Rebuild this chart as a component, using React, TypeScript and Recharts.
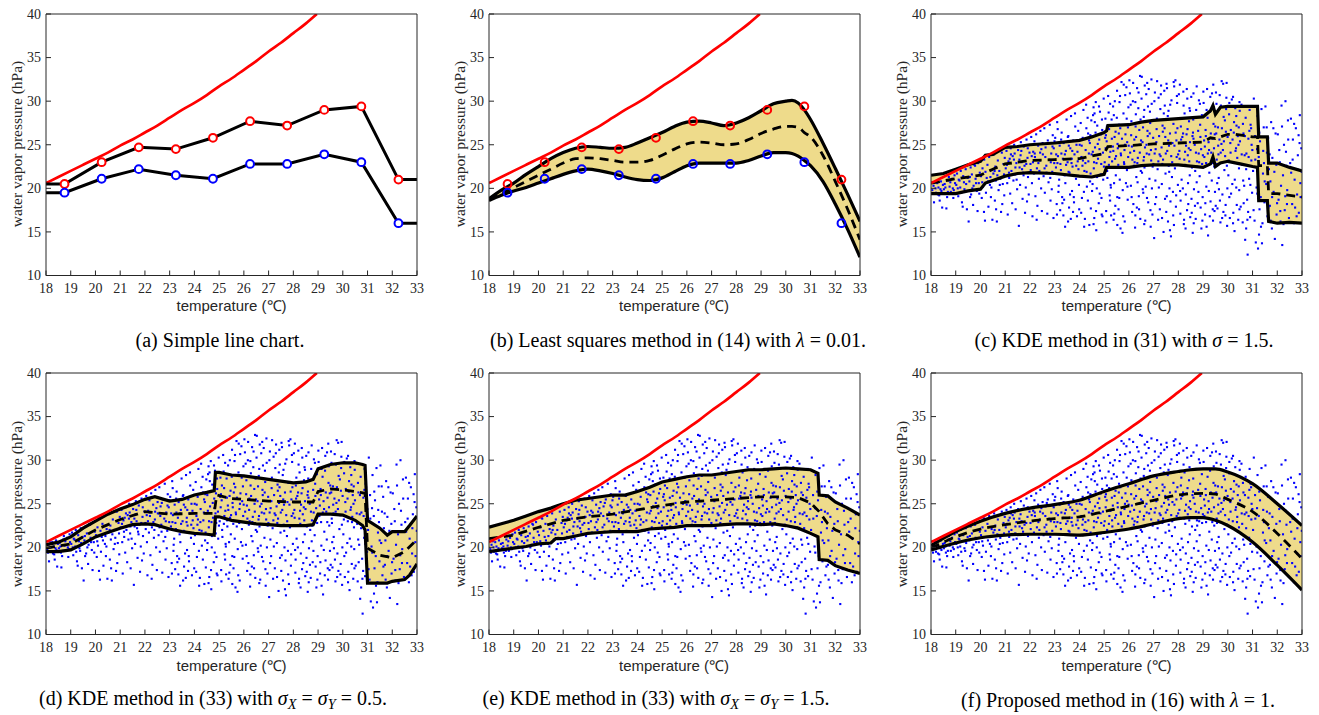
import React from 'react';
import { ComposedChart, Line, Area, Scatter, XAxis, YAxis } from 'recharts';

// axis ticks
const xTicks = [18, 19, 20, 21, 22, 23, 24, 25, 26, 27, 28, 29, 30, 31, 32, 33];
const yTicks = [10, 15, 20, 25, 30, 35, 40];

// saturation vapour pressure (red curve)
const satX = [18, 18.5, 19, 19.5, 20, 20.5, 21, 21.5, 22, 22.5, 23, 23.5, 24, 24.5, 25, 25.5, 26, 26.5, 27, 27.5, 28, 28.5, 28.95];
const satY = [20.6, 21.3, 22.0, 22.7, 23.4, 24.1, 24.9, 25.6, 26.4, 27.2, 28.1, 29.0, 29.8, 30.7, 31.7, 32.6, 33.6, 34.6, 35.7, 36.7, 37.8, 38.9, 40.0];

// bin max / min markers (panels a, b)
const binX = [18.75, 20.25, 21.75, 23.25, 24.75, 26.25, 27.75, 29.25, 30.75, 32.25];
const binMax = [20.5, 23.0, 24.7, 24.5, 25.8, 27.7, 27.2, 29.0, 29.4, 21.0];
const binMin = [19.5, 21.1, 22.2, 21.5, 21.1, 22.8, 22.8, 23.9, 23.0, 16.0];

// (b) least squares
const bX = [18, 18.5, 19, 19.5, 20, 20.5, 21, 21.5, 22, 22.5, 23, 23.5, 24, 24.5, 25, 25.5, 26, 26.5, 27, 27.5, 28, 28.5, 29, 29.5, 30, 30.25, 30.5, 30.75, 31, 31.5, 32, 32.5, 33];
const bHi = [18.8, 19.8, 20.6, 21.6, 22.5, 23.4, 24.1, 24.6, 24.8, 24.7, 24.6, 24.7, 25.2, 25.8, 26.4, 27.1, 27.6, 27.7, 27.5, 27.2, 27.5, 28.1, 28.9, 29.7, 30.0, 30.1, 29.8, 29.0, 27.9, 25.2, 22.3, 19.3, 16.2];
const bLo = [18.6, 19.2, 19.7, 20.1, 20.6, 21.1, 21.6, 22.0, 22.2, 22.0, 21.7, 21.3, 21.0, 20.9, 21.2, 21.9, 22.6, 22.9, 22.9, 22.9, 22.9, 23.2, 23.7, 24.1, 24.1, 24.0, 23.7, 23.2, 22.6, 20.8, 18.2, 15.3, 12.1];
const bMid = [18.7, 19.4, 20.1, 20.8, 21.5, 22.2, 22.9, 23.4, 23.5, 23.4, 23.2, 23.0, 23.0, 23.2, 23.8, 24.5, 25.1, 25.3, 25.2, 25.0, 25.1, 25.6, 26.3, 26.8, 27.1, 27.1, 27.0, 26.4, 25.9, 23.8, 20.8, 17.6, 14.1];

// (c) KDE sigma = 1.5
const cX = [18, 18.5, 19, 19.5, 20, 20.2, 20.5, 21, 21.5, 22, 23, 24, 24.5, 25, 25.1, 25.15, 26, 26.5, 27, 28, 29, 29.3, 29.4, 29.5, 29.7, 30, 30.5, 31, 31.2, 31.25, 31.6, 31.65, 32, 32.5, 33];
const cHi = [21.5, 21.7, 22.2, 22.7, 23.1, 23.8, 23.9, 24.7, 24.8, 25.0, 25.2, 25.5, 25.9, 26.4, 26.6, 27.2, 27.3, 27.6, 27.8, 28.0, 28.2, 28.9, 29.5, 28.5, 29.3, 29.4, 29.4, 29.4, 29.4, 25.9, 25.9, 22.9, 22.9, 22.4, 22.0];
const cLo = [19.4, 19.4, 19.4, 19.7, 19.9, 20.6, 20.9, 21.4, 21.7, 21.8, 21.7, 21.4, 21.3, 21.6, 22.4, 22.4, 22.4, 22.6, 22.7, 22.7, 22.4, 22.8, 23.6, 22.5, 22.9, 23.1, 22.8, 22.5, 22.4, 18.6, 18.6, 16.2, 16.0, 16.1, 16.0];
const cMidX = [18, 19, 20, 20.5, 21, 22, 23, 24, 25, 25.15, 26, 27, 28, 29, 29.3, 29.5, 30, 30.3, 31, 31.2, 31.25, 31.6, 31.65, 32, 33];
const cMid = [20.6, 21.1, 21.5, 22.2, 22.8, 23.2, 23.3, 23.4, 24.0, 24.8, 24.9, 25.1, 25.2, 25.3, 25.8, 25.7, 26.2, 26.2, 25.9, 25.9, 22.6, 22.6, 19.4, 19.4, 19.0];

// (d) KDE sigma = 0.5
const dX = [18, 18.5, 19, 19.5, 20, 20.5, 21, 21.5, 22, 22.4, 23, 23.5, 24, 24.5, 24.8, 24.85, 25, 25.5, 26, 26.5, 27, 27.5, 28, 28.5, 28.8, 29, 29.5, 30, 30.5, 30.8, 30.9, 31, 31.5, 31.8, 32, 32.5, 32.7, 33];
const dHi = [20.3, 20.6, 21.2, 22.2, 23.0, 23.8, 24.4, 24.9, 25.5, 25.8, 25.3, 25.5, 26.0, 26.3, 26.5, 28.6, 28.6, 28.3, 28.2, 28.0, 27.8, 27.6, 27.4, 27.5, 27.8, 29.0, 29.5, 29.7, 29.7, 29.5, 29.4, 23.1, 22.2, 21.4, 21.8, 21.8, 22.5, 23.6];
const dLo = [19.5, 19.5, 19.7, 20.4, 21.2, 21.7, 22.2, 22.6, 22.7, 22.6, 22.1, 21.8, 21.6, 21.5, 21.4, 23.5, 23.5, 23.1, 22.9, 22.7, 22.6, 22.5, 22.5, 22.5, 22.6, 23.8, 23.8, 23.7, 23.1, 22.5, 22.0, 15.9, 15.9, 15.9, 16.1, 16.3, 16.8, 18.1];
const dMidX = [18, 19, 19.5, 20, 21, 22, 23, 24, 24.8, 24.9, 25.5, 26, 27, 28, 28.8, 29, 29.5, 30, 30.5, 30.9, 31, 31.5, 32, 32.5, 33];
const dMid = [19.9, 20.4, 21.2, 22.0, 23.2, 24.1, 23.8, 23.9, 23.9, 26.0, 25.6, 25.5, 25.3, 25.2, 25.2, 26.4, 26.7, 26.6, 26.4, 26.2, 19.9, 19.1, 18.8, 19.5, 20.9];

// (e) KDE sigma_X = sigma_Y = 1.5
const eX = [18, 18.5, 19, 19.5, 20, 20.5, 20.7, 21, 21.5, 22, 22.5, 23, 23.5, 24, 24.5, 25, 25.5, 26, 26.5, 27, 27.5, 28, 28.5, 29, 29.5, 30, 30.5, 31, 31.3, 31.35, 31.7, 32, 32.5, 33];
const eHi = [22.3, 22.7, 23.1, 23.6, 24.1, 24.5, 24.7, 25.0, 25.4, 25.6, 25.8, 26.0, 26.0, 26.4, 26.9, 27.5, 27.8, 28.1, 28.3, 28.3, 28.5, 28.7, 28.9, 28.9, 29.0, 29.1, 29.0, 28.9, 28.5, 26.0, 25.9, 25.2, 24.5, 23.7];
const eLo = [19.5, 19.7, 19.9, 20.1, 20.4, 20.5, 21.0, 21.0, 21.3, 21.6, 21.7, 21.8, 21.8, 21.8, 22.1, 22.2, 22.3, 22.5, 22.5, 22.5, 22.6, 22.7, 22.7, 22.6, 22.7, 22.5, 22.2, 21.6, 21.2, 18.6, 18.5, 17.9, 17.4, 17.0];
const eMidX = [18, 19, 20, 21, 22, 23, 24, 25, 26, 27, 28, 29, 30, 30.5, 31, 31.35, 31.7, 32, 32.5, 33];
const eMid = [21.0, 21.4, 22.3, 23.1, 23.5, 23.8, 24.3, 24.8, 25.2, 25.4, 25.6, 25.8, 25.8, 25.7, 25.1, 24.1, 22.7, 22.0, 21.4, 20.4];

// (f) proposed method
const fX = [18, 19, 20, 21, 22, 23, 24, 25, 26, 27, 28, 28.5, 29, 29.5, 30, 31, 32, 33];
const fHi = [20.2, 21.8, 23.0, 23.9, 24.5, 24.9, 25.4, 26.4, 27.3, 28.2, 28.7, 28.9, 29.0, 29.0, 28.65, 27.3, 25.0, 22.5];
const fLo = [19.7, 20.5, 21.1, 21.4, 21.5, 21.5, 21.4, 21.7, 22.1, 22.7, 23.3, 23.4, 23.4, 23.1, 22.5, 20.6, 17.95, 15.1];
const fMid = [19.9, 21.2, 22.1, 22.6, 23.0, 23.3, 23.5, 24.1, 24.75, 25.4, 26.0, 26.15, 26.2, 26.1, 25.5, 24.1, 21.6, 18.7];

// observations (blue dots), [temperature, vapour pressure]
const obs: [number, number][] = [
  [18.05, 19.8], [18.1, 20.3], [18.12, 18.4], [18.2, 19.5], [18.25, 20.6], [18.3, 20.1], [18.33, 19.2], [18.4, 20.8], [18.42, 19.7], [18.45, 17.8], [18.48, 20.4], [18.15, 20.7],
  [18.52, 19.9], [18.55, 20.5], [18.6, 19.4], [18.62, 17.7], [18.7, 20.9], [18.72, 21.3], [18.75, 20.2], [18.8, 19.6], [18.85, 21.1], [18.88, 20.0], [18.9, 18.9], [18.95, 21.5], [18.97, 20.6], [18.65, 19.0],
  [19.02, 20.4], [19.05, 21.7], [19.1, 19.1], [19.12, 21.0], [19.18, 20.1], [19.2, 22.0], [19.25, 18.4], [19.3, 21.4], [19.33, 20.7], [19.38, 19.6], [19.4, 22.2], [19.45, 17.6], [19.48, 21.2], [19.15, 20.9], [19.35, 19.9],
  [19.52, 16.2], [19.55, 20.8], [19.6, 22.4], [19.62, 19.3], [19.65, 21.6], [19.7, 18.1], [19.72, 20.3], [19.78, 22.6], [19.8, 21.1], [19.85, 19.7], [19.88, 17.4], [19.9, 22.9], [19.93, 20.6], [19.97, 21.8], [19.58, 19.0], [19.75, 22.7],
  [20.02, 21.4], [20.05, 18.9], [20.08, 22.3], [20.1, 20.2], [20.15, 23.3], [20.18, 16.3], [20.2, 21.9], [20.22, 19.5], [20.28, 22.7], [20.3, 20.8], [20.32, 17.9], [20.35, 23.6], [20.4, 21.3], [20.42, 19.0], [20.45, 22.1], [20.48, 16.4], [20.38, 20.4], [20.12, 23.4],
  [20.52, 21.7], [20.55, 23.9], [20.58, 18.6], [20.6, 22.5], [20.62, 20.9], [20.66, 16.2], [20.7, 23.2], [20.73, 19.8], [20.76, 22.0], [20.8, 21.1], [20.83, 17.3], [20.86, 24.1], [20.9, 20.5], [20.93, 22.8], [20.96, 19.2], [20.98, 23.5], [20.68, 21.5], [20.88, 18.2],
  [21.02, 22.3], [21.05, 24.3], [21.08, 20.6], [21.1, 17.0], [21.13, 23.1], [21.16, 21.2], [21.2, 19.4], [21.22, 24.6], [21.25, 22.0], [21.28, 18.3], [21.3, 23.7], [21.33, 20.9], [21.36, 25.0], [21.4, 21.6], [21.42, 17.6], [21.45, 22.9], [21.48, 19.9], [21.18, 23.4], [21.38, 24.0], [21.46, 21.0],
  [21.52, 24.4], [21.55, 15.7], [21.58, 22.4], [21.6, 20.4], [21.63, 25.3], [21.66, 23.0], [21.7, 18.8], [21.72, 21.8], [21.75, 24.8], [21.78, 22.6], [21.8, 17.2], [21.83, 20.1], [21.86, 25.6], [21.9, 23.5], [21.92, 21.3], [21.95, 19.3], [21.98, 24.1], [21.68, 22.2], [21.88, 18.5], [21.62, 23.8],
  [22.02, 22.8], [22.05, 25.9], [22.08, 20.6], [22.1, 16.8], [22.13, 24.2], [22.16, 21.7], [22.2, 23.6], [22.22, 19.1], [22.25, 26.2], [22.28, 22.3], [22.3, 18.0], [22.33, 24.9], [22.36, 21.1], [22.4, 23.2], [22.42, 26.6], [22.45, 20.0], [22.48, 17.4], [22.18, 25.4], [22.38, 22.0], [22.46, 24.5], [22.12, 23.0], [22.27, 16.4],
  [22.52, 23.9], [22.55, 21.4], [22.58, 26.9], [22.6, 19.5], [22.63, 24.7], [22.66, 22.6], [22.7, 17.1], [22.72, 25.5], [22.75, 20.7], [22.78, 23.3], [22.8, 27.3], [22.83, 18.6], [22.86, 24.0], [22.9, 21.9], [22.92, 26.1], [22.95, 16.6], [22.98, 22.9], [22.68, 25.1], [22.88, 19.9], [22.62, 23.6], [22.82, 21.2], [22.96, 24.6],
  [23.02, 25.8], [23.05, 22.4], [23.08, 18.2], [23.1, 27.6], [23.13, 23.7], [23.16, 20.3], [23.2, 24.9], [23.22, 17.5], [23.25, 22.1], [23.28, 26.4], [23.3, 19.0], [23.33, 23.4], [23.36, 25.2], [23.4, 21.5], [23.42, 15.6], [23.45, 24.3], [23.48, 27.9], [23.18, 21.0], [23.38, 18.7], [23.46, 22.7], [23.12, 26.8], [23.27, 24.0], [23.35, 16.9], [23.43, 20.6],
  [23.52, 23.0], [23.55, 26.0], [23.58, 17.8], [23.6, 21.8], [23.63, 24.6], [23.66, 28.3], [23.7, 19.7], [23.72, 22.5], [23.75, 25.5], [23.78, 18.4], [23.8, 23.9], [23.83, 27.1], [23.86, 21.1], [23.9, 16.8], [23.92, 24.2], [23.95, 26.6], [23.98, 20.4], [23.68, 22.9], [23.88, 25.0], [23.62, 19.3], [23.82, 28.6], [23.96, 22.2], [23.74, 17.3], [23.57, 24.9],
  [24.02, 21.4], [24.05, 27.5], [24.08, 23.6], [24.1, 18.9], [24.13, 25.8], [24.16, 29.0], [24.2, 22.0], [24.22, 16.5], [24.25, 24.4], [24.28, 26.9], [24.3, 20.2], [24.33, 28.1], [24.36, 23.1], [24.4, 15.8], [24.42, 25.2], [24.45, 21.7], [24.48, 27.8], [24.18, 19.6], [24.38, 24.0], [24.46, 17.7], [24.12, 22.6], [24.27, 29.6], [24.35, 26.3], [24.43, 20.8], [24.07, 17.2], [24.49, 23.9],
  [24.52, 26.0], [24.55, 28.4], [24.58, 22.3], [24.6, 16.6], [24.63, 24.7], [24.66, 29.9], [24.7, 20.0], [24.72, 27.2], [24.75, 23.4], [24.78, 18.3], [24.8, 25.6], [24.83, 28.8], [24.86, 21.6], [24.9, 17.0], [24.92, 26.7], [24.95, 24.1], [24.98, 30.3], [24.68, 15.2], [24.88, 22.8], [24.62, 27.6], [24.82, 19.4], [24.96, 21.0], [24.74, 25.1], [24.57, 29.3], [24.93, 16.8], [24.53, 20.5], [24.85, 23.9], [24.65, 26.4],
  [25.02, 23.0], [25.05, 28.0], [25.08, 17.4], [25.1, 25.4], [25.13, 21.2], [25.16, 30.6], [25.2, 26.8], [25.22, 19.2], [25.25, 24.2], [25.28, 16.9], [25.3, 27.9], [25.33, 22.4], [25.36, 29.4], [25.4, 20.6], [25.42, 25.9], [25.45, 18.0], [25.48, 23.7], [25.18, 28.7], [25.38, 16.4], [25.46, 26.5], [25.12, 22.0], [25.27, 20.1], [25.35, 24.8], [25.43, 30.0], [25.07, 26.1], [25.47, 21.5], [25.24, 18.6], [25.32, 23.1],
  [25.52, 31.2], [25.55, 24.6], [25.58, 17.6], [25.6, 27.3], [25.63, 21.0], [25.66, 15.4], [25.7, 32.2], [25.72, 25.7], [25.75, 19.8], [25.78, 28.6], [25.8, 23.0], [25.83, 16.2], [25.86, 26.2], [25.9, 31.6], [25.92, 22.1], [25.95, 18.7], [25.98, 29.3], [25.68, 23.8], [25.88, 20.6], [25.62, 29.9], [25.82, 24.4], [25.96, 27.0], [25.74, 14.9], [25.57, 22.7], [25.93, 25.3], [25.53, 19.0], [25.85, 30.7], [25.65, 26.9],
  [26.02, 32.4], [26.05, 24.1], [26.08, 20.3], [26.1, 27.7], [26.13, 17.3], [26.16, 30.0], [26.2, 22.6], [26.22, 25.6], [26.25, 15.5], [26.28, 28.5], [26.3, 21.3], [26.33, 31.5], [26.36, 23.5], [26.4, 19.1], [26.42, 26.7], [26.45, 32.9], [26.48, 22.0], [26.18, 18.2], [26.38, 29.2], [26.46, 16.5], [26.12, 24.8], [26.27, 27.1], [26.35, 20.7], [26.43, 25.0], [26.07, 29.6], [26.47, 27.9], [26.23, 23.0], [26.32, 17.8],
  [26.52, 32.8], [26.55, 25.3], [26.58, 19.5], [26.6, 28.2], [26.63, 22.4], [26.66, 16.3], [26.7, 30.8], [26.72, 24.0], [26.75, 26.6], [26.78, 18.4], [26.8, 31.4], [26.83, 21.1], [26.86, 27.5], [26.9, 23.2], [26.92, 29.7], [26.95, 17.0], [26.98, 25.8], [26.68, 20.2], [26.88, 15.6], [26.62, 29.0], [26.82, 23.9], [26.96, 22.5], [26.74, 32.1], [26.57, 27.0], [26.93, 20.0], [26.53, 21.8], [26.85, 28.8], [26.65, 24.7],
  [27.02, 14.3], [27.05, 31.0], [27.08, 24.5], [27.1, 19.0], [27.13, 28.0], [27.16, 22.2], [27.2, 30.4], [27.22, 26.0], [27.25, 17.6], [27.28, 23.7], [27.3, 31.8], [27.33, 20.5], [27.36, 27.2], [27.4, 15.0], [27.42, 25.1], [27.45, 29.5], [27.48, 21.7], [27.18, 16.4], [27.38, 23.3], [27.46, 18.8], [27.12, 26.8], [27.27, 29.1], [27.35, 22.8], [27.43, 31.2], [27.07, 20.9], [27.47, 25.9],
  [27.52, 32.0], [27.55, 24.3], [27.58, 16.2], [27.6, 28.9], [27.63, 21.9], [27.66, 26.3], [27.7, 14.5], [27.72, 30.1], [27.75, 23.0], [27.78, 19.6], [27.8, 27.4], [27.83, 31.7], [27.86, 22.3], [27.9, 17.9], [27.92, 25.5], [27.95, 29.8], [27.98, 20.4], [27.68, 18.5], [27.88, 32.4], [27.62, 24.9], [27.82, 15.8], [27.96, 26.9], [27.74, 21.3], [27.57, 28.3], [27.93, 23.6], [27.53, 19.1],
  [28.02, 30.8], [28.05, 23.4], [28.08, 17.1], [28.1, 27.1], [28.13, 21.0], [28.16, 25.9], [28.2, 31.1], [28.22, 15.9], [28.25, 28.6], [28.28, 22.7], [28.3, 19.3], [28.33, 26.2], [28.36, 30.3], [28.4, 18.2], [28.42, 24.6], [28.45, 29.2], [28.48, 16.7], [28.18, 20.0], [28.38, 23.8], [28.46, 21.5], [28.12, 28.0], [28.27, 24.2], [28.35, 17.5], [28.43, 27.7], [28.07, 19.7], [28.47, 25.3],
  [28.52, 30.5], [28.55, 22.4], [28.58, 14.9], [28.6, 27.9], [28.63, 19.9], [28.66, 25.0], [28.7, 16.5], [28.72, 29.0], [28.75, 23.1], [28.78, 18.3], [28.8, 26.6], [28.83, 30.1], [28.86, 21.4], [28.9, 17.8], [28.92, 24.5], [28.95, 28.4], [28.98, 19.0], [28.68, 22.0], [28.88, 27.3], [28.62, 16.0], [28.82, 24.0], [28.96, 22.8], [28.74, 20.7], [28.57, 26.0], [28.93, 15.4], [28.53, 18.8],
  [29.02, 29.8], [29.05, 23.6], [29.08, 17.0], [29.1, 26.7], [29.13, 20.2], [29.16, 31.4], [29.2, 14.6], [29.22, 25.3], [29.25, 21.8], [29.28, 28.8], [29.3, 18.5], [29.33, 24.1], [29.36, 30.9], [29.4, 16.3], [29.42, 27.4], [29.45, 22.5], [29.48, 19.6], [29.18, 28.1], [29.38, 25.7], [29.46, 17.4], [29.12, 22.9], [29.27, 16.8], [29.35, 20.9], [29.43, 29.3], [29.07, 24.8], [29.47, 26.2],
  [29.52, 31.0], [29.55, 23.3], [29.58, 17.7], [29.6, 27.0], [29.63, 21.2], [29.66, 25.6], [29.7, 16.1], [29.72, 29.5], [29.75, 32.3], [29.78, 19.3], [29.8, 24.4], [29.83, 28.2], [29.86, 22.1], [29.9, 16.9], [29.92, 26.5], [29.95, 32.1], [29.98, 20.0], [29.68, 18.6], [29.88, 27.8], [29.62, 23.9], [29.82, 17.3], [29.96, 22.6], [29.74, 25.1], [29.57, 20.6], [29.93, 29.1], [29.53, 26.3],
  [30.02, 21.5], [30.05, 28.5], [30.08, 16.6], [30.1, 25.2], [30.13, 19.4], [30.16, 30.2], [30.2, 23.0], [30.22, 17.2], [30.25, 27.6], [30.28, 21.0], [30.3, 29.2], [30.33, 24.6], [30.36, 18.1], [30.4, 26.0], [30.42, 16.4], [30.45, 22.3], [30.48, 28.9], [30.18, 20.5], [30.38, 23.5], [30.46, 19.8], [30.12, 26.7], [30.27, 15.1], [30.35, 27.2], [30.43, 25.0],
  [30.52, 17.9], [30.55, 29.6], [30.58, 22.7], [30.6, 16.1], [30.63, 26.3], [30.66, 20.3], [30.7, 14.1], [30.72, 28.1], [30.75, 24.0], [30.78, 18.7], [30.8, 12.4], [30.83, 25.7], [30.86, 21.1], [30.9, 16.7], [30.92, 27.3], [30.95, 23.2], [30.98, 19.5], [30.68, 23.8], [30.88, 29.0], [30.62, 20.9], [30.82, 17.3], [30.96, 25.0],
  [31.02, 22.0], [31.05, 30.3], [31.08, 16.3], [31.1, 26.0], [31.13, 13.8], [31.16, 20.1], [31.2, 28.3], [31.22, 13.1], [31.25, 23.6], [31.28, 17.6], [31.3, 25.4], [31.33, 19.0], [31.36, 29.1], [31.4, 16.0], [31.42, 21.7], [31.45, 27.0], [31.48, 18.4], [31.18, 24.5], [31.38, 13.7], [31.46, 22.9],
  [31.52, 29.4], [31.55, 20.5], [31.6, 16.8], [31.63, 25.8], [31.66, 22.2], [31.7, 18.0], [31.75, 27.6], [31.78, 15.4], [31.8, 23.5], [31.85, 19.6], [31.9, 14.2], [31.93, 26.3], [31.97, 17.0], [31.58, 24.1], [31.72, 20.8], [31.88, 21.9],
  [32.02, 26.2], [32.05, 18.7], [32.1, 23.0], [32.13, 16.2], [32.17, 29.5], [32.2, 13.5], [32.23, 21.5], [32.27, 25.0], [32.3, 17.5], [32.33, 30.0], [32.37, 22.6], [32.4, 19.8], [32.43, 27.8], [32.47, 16.6], [32.15, 20.3], [32.35, 24.2],
  [32.52, 22.9], [32.55, 28.0], [32.6, 18.2], [32.63, 25.6], [32.67, 16.0], [32.7, 21.0], [32.75, 26.9], [32.8, 19.3], [32.83, 23.8], [32.87, 17.2], [32.9, 25.2], [32.93, 20.6], [32.97, 24.6], [32.78, 16.8],
  // denser core of the cloud
  [21.07, 22.7], [21.23, 23.9], [21.41, 22.4], [21.57, 23.3], [21.74, 21.5], [21.91, 24.6], [22.03, 22.1], [22.19, 24.0], [22.34, 22.9], [22.51, 25.2], [22.67, 21.8], [22.84, 23.0], [22.99, 25.4],
  [23.11, 22.9], [23.26, 25.6], [23.41, 23.9], [23.56, 21.9], [23.71, 24.3], [23.87, 22.6], [24.01, 25.0], [24.14, 23.2], [24.29, 21.9], [24.44, 26.1], [24.59, 23.0], [24.71, 21.3], [24.87, 26.2],
  [24.99, 22.5], [25.06, 24.6], [25.19, 22.7], [25.31, 25.7], [25.44, 23.4], [25.59, 26.3], [25.71, 22.4], [25.84, 25.0], [25.97, 23.6], [26.09, 26.1], [26.21, 24.3], [26.34, 22.9], [26.49, 25.5],
  [26.61, 23.6], [26.76, 26.0], [26.89, 24.4], [26.99, 22.8], [27.11, 25.3], [27.24, 23.9], [27.37, 26.5], [27.49, 24.0], [27.61, 22.6], [27.76, 25.2], [27.89, 26.4], [27.99, 23.9], [28.11, 25.6],
  [28.24, 23.3], [28.37, 26.8], [28.49, 24.4], [28.61, 25.7], [28.76, 22.5], [28.89, 25.9], [28.99, 23.8], [29.11, 26.0], [29.24, 24.4], [29.37, 22.9], [29.49, 27.1], [29.61, 24.9], [29.76, 26.9],
  [29.89, 23.7], [29.99, 25.9], [30.11, 24.1], [30.24, 26.4], [30.37, 22.9], [30.49, 25.4], [30.61, 27.4], [30.74, 22.2], [30.87, 26.6], [30.99, 24.4],
  [21.15, 21.8], [21.35, 23.3], [21.65, 24.3], [21.85, 22.8], [22.07, 23.7], [22.41, 24.1], [22.59, 22.3], [22.91, 24.8], [23.06, 23.9], [23.23, 22.8], [23.53, 25.9], [23.69, 23.4], [23.93, 23.1],
  [24.09, 24.9], [24.24, 22.9], [24.39, 25.5], [24.54, 24.2], [24.69, 22.9], [24.81, 24.5], [25.04, 25.8], [25.21, 23.6], [25.37, 24.3], [25.54, 25.1], [25.67, 24.0], [25.81, 22.8], [25.99, 24.9],
  [26.14, 23.3], [26.29, 25.9], [26.44, 24.1], [26.59, 23.2], [26.71, 25.0], [26.84, 26.3], [27.04, 24.0], [27.19, 23.1], [27.32, 24.7], [27.44, 26.9], [27.59, 25.5], [27.71, 23.7], [27.84, 24.9],
  [28.04, 24.3], [28.19, 26.3], [28.31, 24.9], [28.44, 23.1], [28.59, 26.4], [28.71, 24.1], [28.84, 23.0], [29.04, 25.5], [29.19, 24.0], [29.31, 26.3], [29.44, 24.6], [29.56, 22.8], [29.71, 24.1],
  [29.84, 25.4], [30.04, 23.2], [30.19, 25.6], [30.31, 24.3], [30.44, 27.0], [30.56, 23.9], [30.69, 26.0], [30.84, 23.6], [30.94, 26.9],
  // upper cluster
  [25.51, 28.1], [25.64, 30.6], [25.79, 31.9], [25.91, 28.0], [26.04, 30.9], [26.17, 32.1], [26.26, 29.9], [26.39, 31.0], [26.51, 30.3], [26.64, 31.8], [26.77, 29.4], [26.91, 32.5], [27.03, 30.0],
  [27.14, 32.3], [27.29, 30.8], [27.41, 28.6], [27.54, 31.5], [27.67, 29.6], [27.81, 32.2], [27.94, 30.6], [28.06, 31.9], [28.21, 29.5], [28.34, 31.4], [28.47, 28.9], [28.61, 30.9], [28.74, 31.7],
  [28.87, 29.7], [29.01, 31.1], [29.14, 29.0], [29.29, 30.5], [29.41, 31.9], [29.54, 29.7], [29.67, 30.7], [29.81, 32.0], [29.94, 30.4], [30.06, 29.8], [30.21, 30.5], [30.34, 28.3], [30.47, 29.9],
  [24.79, 29.4], [24.61, 28.6], [25.24, 29.7], [25.39, 28.4], [24.91, 27.9], [25.11, 27.1],
  // lower part of the cloud
  [23.09, 17.0], [23.31, 18.3], [23.54, 16.2], [23.77, 19.0], [23.99, 17.6], [24.19, 15.6], [24.34, 18.6], [24.51, 19.7], [24.67, 17.4], [24.89, 18.9], [25.09, 16.1], [25.26, 20.4], [25.41, 17.1],
  [25.61, 18.9], [25.77, 16.8], [25.94, 20.2], [26.11, 19.0], [26.26, 16.9], [26.41, 17.6], [26.56, 19.9], [26.73, 18.9], [26.87, 17.5], [27.06, 18.2], [27.21, 20.1], [27.34, 16.6], [27.51, 17.3],
  [27.64, 20.0], [27.79, 16.9], [27.91, 19.2], [28.09, 18.6], [28.23, 16.4], [28.39, 20.6], [28.54, 17.2], [28.67, 18.0], [28.81, 19.6], [28.97, 16.3], [29.09, 18.3], [29.23, 19.7], [29.39, 17.6],
  [29.51, 18.0], [29.64, 19.9], [29.77, 16.6], [29.91, 18.1], [30.06, 19.0], [30.21, 16.0], [30.34, 20.1], [30.47, 17.6], [30.64, 18.3], [30.79, 16.4], [30.91, 20.4], [31.04, 17.5], [31.19, 19.4],
  [31.34, 15.6], [31.49, 20.8], [31.64, 17.8], [31.79, 19.0], [23.15, 19.6], [23.65, 16.5], [24.57, 15.9], [25.53, 15.8], [26.62, 15.9], [27.66, 15.2], [28.29, 15.4], [29.14, 15.6], [29.97, 15.7],
  [30.74, 15.4], [31.26, 14.7],
  // right end
  [31.11, 23.3], [31.27, 26.4], [31.43, 24.3], [31.57, 27.0], [31.69, 23.9], [31.84, 26.9], [31.96, 22.7], [32.08, 24.4], [32.19, 27.1], [32.32, 19.1], [32.44, 25.6], [32.56, 21.8], [32.68, 27.4],
  [32.81, 22.2], [32.94, 19.0], [32.12, 17.4], [32.39, 18.2], [32.62, 23.3], [32.86, 26.1], [32.99, 21.9], [31.73, 16.3], [31.99, 18.3], [32.25, 15.9], [32.72, 17.8], [32.91, 28.4],
  // left end
  [18.08, 19.4], [18.18, 20.0], [18.28, 19.3], [18.38, 19.9], [18.58, 20.1], [18.68, 19.6], [18.78, 20.7], [18.92, 19.8], [19.08, 20.0], [19.22, 19.5], [19.42, 20.5], [19.57, 21.3], [19.67, 20.0],
  [19.82, 20.6], [19.95, 19.4], [20.07, 20.7], [20.25, 21.2], [20.44, 20.1], [20.57, 22.0], [20.78, 20.4], [20.95, 21.6], [18.35, 18.6], [19.28, 17.9], [20.14, 17.3], [20.63, 17.6],
];

const pts = (xs: number[], ys: number[]) => xs.map((x, i) => ({ x, y: ys[i] }));
const band = (xs: number[], lo: number[], hi: number[]) => xs.map((x, i) => ({ x, lo: lo[i], hi: hi[i] }));

const satPts = pts(satX, satY);
const maxPts = pts(binX, binMax);
const minPts = pts(binX, binMin);
const aUpper = pts([18, ...binX, 33], [binMax[0], ...binMax, binMax[binMax.length - 1]]);
const aLower = pts([18, ...binX, 33], [binMin[0], ...binMin, binMin[binMin.length - 1]]);
const obsPts = obs.map(([x, y]) => ({ x, y }));

const AXIS = '#262626';
const RED = '#ff0000';
const BLUE = '#0000ff';
const FILL = '#eedb8b';
const serif = '"Liberation Serif", "Times New Roman", serif';
const sans = '"Liberation Sans", Arial, sans-serif';

const PW = 371;
const PH = 261.5;
const AXW = 40;
const MT = 8;
const MR = 12;
const XH = 24;

const XTick = (p: any) => (
  <text x={p.x} y={p.y} dy="0.71em" textAnchor="middle" fill={AXIS} fontSize={14} fontFamily={serif}>
    {p.payload.value}
  </text>
);
const YTick = (p: any) => (
  <text x={p.x} y={p.y} dy="0.35em" textAnchor="end" fill={AXIS} fontSize={14} fontFamily={serif}>
    {p.payload.value}
  </text>
);

const Dot = (p: any) => <rect x={p.cx - 1} y={p.cy - 1} width={2.1} height={2.1} fill={BLUE} />;
const ring = (color: string, fill: string) => (p: any) => (
  <circle cx={p.cx} cy={p.cy} r={3.9} fill={fill} stroke={color} strokeWidth={2} />
);

const satLine = (
  <Line key="sat" data={satPts} dataKey="y" type="monotone" stroke={RED} strokeWidth={2.7}
    dot={false} activeDot={false} isAnimationActive={false} />
);

function bandLayers(rows: any[], mid: any[], curve: 'linear' | 'monotone', dots: boolean) {
  const layers = [
    <Area key="band" data={rows} dataKey={(d: any) => [d.lo, d.hi]} type={curve} stroke="none"
      fill={FILL} fillOpacity={1} dot={false} activeDot={false} isAnimationActive={false} />,
  ];
  if (dots) {
    layers.push(
      <Scatter key="obs" data={obsPts} shape={Dot} zIndex={350} isAnimationActive={false} />
    );
  }
  layers.push(
    <Line key="hi" data={rows} dataKey="hi" type={curve} stroke="#000" strokeWidth={3.2}
      dot={false} activeDot={false} isAnimationActive={false} />,
    <Line key="lo" data={rows} dataKey="lo" type={curve} stroke="#000" strokeWidth={3.2}
      dot={false} activeDot={false} isAnimationActive={false} />,
    <Line key="mid" data={mid} dataKey="y" type={curve} stroke="#000" strokeWidth={2.8}
      strokeDasharray="9 6" dot={false} activeDot={false} isAnimationActive={false} />,
    satLine
  );
  return layers;
}

type PanelProps = {
  left: number;
  top: number;
  capX: number;
  caption: React.ReactNode;
  children: React.ReactNode;
};

function Panel({ left, top, capX, caption, children }: PanelProps) {
  const frame = { stroke: AXIS, strokeWidth: 1 };
  return (
    <>
      <div style={{ position: 'absolute', left: left - AXW, top: top - MT }}>
        <ComposedChart width={AXW + PW + MR} height={MT + PH + XH}
          margin={{ top: MT - 1, right: MR - 1, bottom: 0, left: 0 }}>
          <XAxis type="number" dataKey="x" domain={[18, 33]} ticks={xTicks} interval={0}
            allowDataOverflow height={XH} tickSize={-5} tickMargin={13}
            axisLine={frame} tickLine={frame} tick={XTick} />
          <XAxis xAxisId="top" orientation="top" type="number" dataKey="x" domain={[18, 33]}
            ticks={xTicks} interval={0} allowDataOverflow height={1} tickSize={-5} tick={false}
            axisLine={frame} tickLine={frame} />
          <YAxis type="number" dataKey="y" domain={[10, 40]} ticks={yTicks} interval={0}
            allowDataOverflow width={AXW} tickSize={-5} tickMargin={10}
            axisLine={frame} tickLine={frame} tick={YTick} />
          <YAxis yAxisId="right" orientation="right" type="number" dataKey="y" domain={[10, 40]}
            ticks={yTicks} interval={0} allowDataOverflow width={1} tickSize={-5} tick={false}
            axisLine={frame} tickLine={frame} />
          {children}
        </ComposedChart>
      </div>
      <div style={{
        position: 'absolute', left: left - 29, top: top + PH / 2,
        transform: 'translate(-50%, -50%) rotate(-90deg)', whiteSpace: 'nowrap',
        fontFamily: serif, fontSize: 15.5, color: AXIS, lineHeight: 1,
      }}>
        water vapor pressure (hPa)
      </div>
      <div style={{
        position: 'absolute', left: left + PW / 2, top: top + PH + 30,
        transform: 'translate(-50%, -50%)', whiteSpace: 'nowrap',
        fontFamily: sans, fontSize: 15, color: AXIS, lineHeight: 1,
      }}>
        temperature (℃)
      </div>
      <div style={{
        position: 'absolute', left: capX, top: top + PH + 65,
        transform: 'translate(-50%, -50%)', whiteSpace: 'nowrap',
        fontFamily: serif, fontSize: 20, color: '#000', lineHeight: 1,
      }}>
        {caption}
      </div>
    </>
  );
}

const sub = (s: string) => (
  <sub style={{ fontSize: '0.72em', verticalAlign: '-0.3em', fontStyle: 'italic' }}>{s}</sub>
);

const COL = [46, 488.5, 931];
const ROW = [13.5, 373];

export default function App() {
  return (
    <div style={{ position: 'absolute', left: 0, top: 0, width: 1319, height: 715, background: '#fff' }}>
      <Panel left={COL[0]} top={ROW[0]} capX={220} caption={<>(a) Simple line chart.</>}>
        {[
          satLine,
          <Line key="up" data={aUpper} dataKey="y" type="linear" stroke="#000" strokeWidth={3}
            dot={false} activeDot={false} isAnimationActive={false} />,
          <Line key="dn" data={aLower} dataKey="y" type="linear" stroke="#000" strokeWidth={3}
            dot={false} activeDot={false} isAnimationActive={false} />,
          <Scatter key="mx" data={maxPts} shape={ring(RED, '#fff')} isAnimationActive={false} />,
          <Scatter key="mn" data={minPts} shape={ring(BLUE, '#fff')} isAnimationActive={false} />,
        ]}
      </Panel>
      <Panel left={COL[1]} top={ROW[0]} capX={678}
        caption={<>(b) Least squares method in (14) with <i>λ</i> = 0.01.</>}>
        {[
          ...bandLayers(band(bX, bLo, bHi), pts(bX, bMid), 'monotone', false),
          <Scatter key="mx" data={maxPts} shape={ring(RED, 'none')} isAnimationActive={false} />,
          <Scatter key="mn" data={minPts} shape={ring(BLUE, 'none')} isAnimationActive={false} />,
        ]}
      </Panel>
      <Panel left={COL[2]} top={ROW[0]} capX={1124}
        caption={<>(c) KDE method in (31) with <i>σ</i> = 1.5.</>}>
        {bandLayers(band(cX, cLo, cHi), pts(cMidX, cMid), 'linear', true)}
      </Panel>
      <Panel left={COL[0]} top={ROW[1]} capX={213}
        caption={<>(d) KDE method in (33) with <i>σ</i>{sub('X')} = <i>σ</i>{sub('Y')} = 0.5.</>}>
        {bandLayers(band(dX, dLo, dHi), pts(dMidX, dMid), 'linear', true)}
      </Panel>
      <Panel left={COL[1]} top={ROW[1]} capX={656}
        caption={<>(e) KDE method in (33) with <i>σ</i>{sub('X')} = <i>σ</i>{sub('Y')} = 1.5.</>}>
        {bandLayers(band(eX, eLo, eHi), pts(eMidX, eMid), 'linear', true)}
      </Panel>
      <Panel left={COL[2]} top={ROW[1]} capX={1118}
        caption={<>(f) Proposed method in (16) with <i>λ</i> = 1.</>}>
        {bandLayers(band(fX, fLo, fHi), pts(fX, fMid), 'monotone', true)}
      </Panel>
    </div>
  );
}
